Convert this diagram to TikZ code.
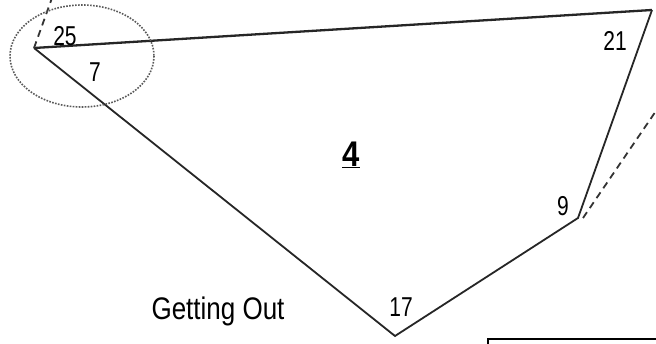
\documentclass[tikz,border=0pt]{standalone}
\usepackage{fontspec}
\setmainfont{Liberation Sans}
\begin{document}
\begin{tikzpicture}[x=1pt,y=-1pt,
  edge/.style={draw=black!85,line width=1.8pt},
  dashedge/.style={draw=black!80,line width=1.8pt,dash pattern=on 7pt off 5pt},
  num/.style={inner sep=0pt,font=\fontsize{21}{24}\selectfont},
  lbl/.style={inner sep=0pt,font=\fontsize{26}{30}\selectfont}]
\useasboundingbox (0,0) rectangle (656,344);
\fill[white] (0,0) rectangle (656,344);
\coordinate (v25) at (34,48);
\coordinate (v21) at (652,10);
\coordinate (v9) at (578,218);
\coordinate (v17) at (395,336);
\coordinate (d1) at (52,-2);
\coordinate (d2) at (658,108);
\coordinate (bx) at (488,339);
\draw[edge,line width=2.3pt] (v25) -- (v21);
\draw[edge,line join=miter] (v21) -- (v9) -- (v17) -- (v25);
\draw[dashedge] (v25) -- (d1);
\draw[dashedge] ([xshift=5pt]v9) -- (d2);
\draw[draw=black!65,line width=1.6pt,dash pattern=on 1.6pt off 1.4pt] (82,56) ellipse [x radius=72,y radius=51];
\draw[black,line width=1.6pt] (bx |- 0,346) -- (bx) -- (660,339);
\node[num] (n25) at (65,36) {\scalebox{1}[1.3]{25}};
\node[num] (n7) at (95,72) {\scalebox{1}[1.3]{7}};
\node[num] (n21) at (615,41) {\scalebox{1}[1.3]{21}};
\node[num] (n9) at (563,206) {\scalebox{1}[1.3]{9}};
\node[num] (n17) at (401,307) {\scalebox{1}[1.3]{17}};
\node[inner sep=0pt,font=\fontsize{31}{34}\selectfont\bfseries] (n4) at (351,155) {\scalebox{1}[1.15]{\underline{4}}};
\node[lbl,anchor=base] (go) at (218,320) {\scalebox{1}[1.2]{Getting Out}};
\end{tikzpicture}
\end{document}
